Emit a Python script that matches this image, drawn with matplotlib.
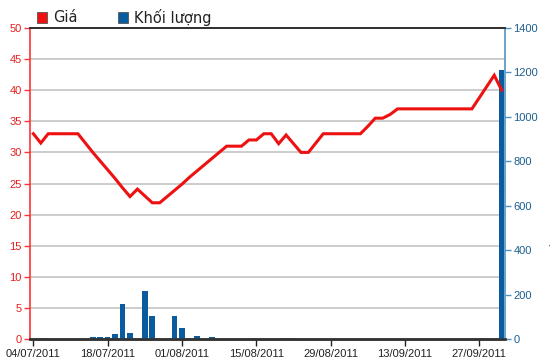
import matplotlib
matplotlib.use("Agg")
import matplotlib.pyplot as plt
from matplotlib.patches import Rectangle

# ---- data ----
tick_labels = ["04/07/2011", "18/07/2011", "01/08/2011", "15/08/2011",
               "29/08/2011", "13/09/2011", "27/09/2011"]
tick_index = [0, 10, 20, 30, 40, 50, 60]

price = [33.0, 31.5, 33.0, 33.0, 33.0, 33.0, 33.0, 31.5, 30.0, 28.6,
         27.2, 25.8, 24.3, 22.9, 24.1, 23.0, 21.9, 21.9, 22.9, 23.9,
         24.9, 26.0, 27.0, 28.0, 29.0, 30.0, 31.0, 31.0, 31.0, 32.0,
         32.0, 33.0, 33.0, 31.4, 32.8, 31.4, 30.0, 30.0, 31.5, 33.0,
         33.0, 33.0, 33.0, 33.0, 33.0, 34.2, 35.5, 35.5, 36.1, 37.0,
         37.0, 37.0, 37.0, 37.0, 37.0, 37.0, 37.0, 37.0, 37.0, 37.0,
         38.8, 40.6, 42.4, 40.0]

vol_index = [1, 8, 9, 10, 11, 12, 13, 15, 16, 19, 20, 22, 24, 34, 63]
volume = [6, 9, 9, 9, 22, 159, 27, 214, 105, 105, 50, 15, 9, 4, 1210]

price_color = "#ee1111"
vol_color = "#0b5c9e"
left_axis_color = "#ff3333"
right_axis_color = "#4f93c4"
right_label_color = "#1d5f8f"
font = "Liberation Sans"

fig = plt.figure(figsize=(5.5, 3.64), dpi=100)
ax = fig.add_axes([30 / 550, 1 - 339 / 364, 475 / 550, 311 / 364])
axv = ax.twinx()

n = len(price)
x = list(range(n))

# price axis (back): grid
ax.set_ylim(0, 50)
ax.set_yticks(range(0, 51, 5))
ax.set_xlim(-0.45, 63.45)
for v in range(5, 50, 5):
    ax.axhline(v, color="#c8c8c8", lw=1.3, zorder=0)

# volume axis (front)
axv.set_ylim(0, 1400)
axv.set_yticks(range(0, 1401, 200))
axv.set_xlim(-0.45, 63.45)
axv.bar(vol_index, volume, width=0.75, color=vol_color, zorder=2)

# price line drawn on top of bars, using the price axis scale
axv.plot(x, price, color=price_color, lw=2.2, transform=ax.transData,
         zorder=3, solid_joinstyle="miter")

# spines
for a in (ax, axv):
    a.spines["top"].set_color("#333333")
    a.spines["top"].set_linewidth(1.4)
    a.spines["bottom"].set_color("#333333")
    a.spines["bottom"].set_linewidth(1.8)
ax.spines["left"].set_color(left_axis_color)
ax.spines["left"].set_linewidth(1.2)
ax.spines["right"].set_visible(False)
axv.spines["left"].set_visible(False)
axv.spines["right"].set_color(right_axis_color)
axv.spines["right"].set_linewidth(1.2)

ax.tick_params(axis="y", colors=left_axis_color, labelcolor="#e61e1e",
               length=4, width=1, labelsize=8, pad=2)
axv.tick_params(axis="y", colors=right_axis_color, labelcolor=right_label_color,
                length=4, width=1, labelsize=8, pad=2)
for lbl in ax.get_yticklabels() + axv.get_yticklabels():
    lbl.set_family(font)

ax.set_xticks(tick_index)
ax.set_xticklabels(tick_labels, family=font, fontsize=8)
ax.tick_params(axis="x", colors="#222222", length=5, width=1, pad=2,
               labelbottom=True)

# legend above plot
fig.patches.append(Rectangle((37 / 550, 1 - 23 / 364), 10 / 550, 11 / 364,
                             transform=fig.transFigure, facecolor="#ee1111",
                             edgecolor="#555555", lw=0.6))
fig.text(53 / 550, 1 - 18 / 364, "Giá", fontsize=10.5, va="center",
         ha="left", color="#222222", family="DejaVu Sans")
fig.patches.append(Rectangle((118 / 550, 1 - 23 / 364), 10 / 550, 11 / 364,
                             transform=fig.transFigure, facecolor=vol_color,
                             edgecolor="#555555", lw=0.6))
fig.text(134 / 550, 1 - 18 / 364, "Khối lượng", fontsize=10.5, va="center",
         ha="left", color="#222222", family="DejaVu Sans")

# axis titles, mostly cut off at the figure edges (as in the reference)
fig.text(-8 / 550, 1 - 150 / 364, "Giá (nghìn VNĐ)", rotation=90,
         color="#e61e1e", fontsize=10, va="center", ha="center", family=font)
fig.text(558 / 550, 1 - 200 / 364, "Khối lượng (nghìn cp)", rotation=90,
         color=right_label_color, fontsize=10, va="center", ha="center",
         family=font)

fig.savefig("out.png", dpi=100)
